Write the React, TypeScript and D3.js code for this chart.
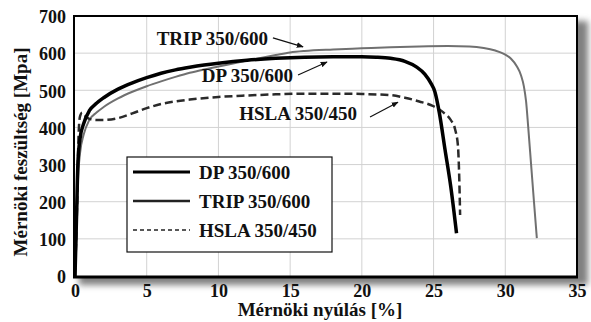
import * as d3 from 'd3';
import React, { useEffect, useRef } from 'react';

// strain [%] / stress [MPa]
const dpStrain = [0, 0.1, 0.2, 0.35, 0.6, 1, 1.5, 2, 3, 4, 5, 6, 7, 8, 9, 10, 12, 14, 16, 18, 20, 21, 22, 23, 23.8, 24.4, 24.8, 25.1, 25.4, 25.8, 26.2, 26.6];
const dpStress = [0, 150, 300, 370, 410, 445, 465, 480, 503, 520, 534, 546, 555, 562, 568, 573, 581, 586, 589, 590, 590, 589, 586, 578, 563, 543, 520, 495, 440, 340, 240, 115];

const tripStrain = [0, 0.1, 0.2, 0.35, 0.6, 1, 1.5, 2, 3, 4, 5, 6, 7, 8, 9, 10, 12, 14, 15, 16, 18, 20, 22, 24, 26, 27.5, 28.5, 29.3, 29.9, 30.4, 30.8, 31.1, 31.3, 31.45, 31.6, 31.8, 32, 32.2];
const tripStress = [0, 100, 250, 330, 380, 420, 440, 455, 478, 496, 511, 524, 536, 547, 556, 564, 580, 595, 602, 606, 610, 613, 616, 618, 619, 618, 614, 607, 598, 585, 565, 540, 510, 470, 400, 300, 200, 102];

const hslaStrain = [0, 0.15, 0.25, 0.35, 0.5, 0.7, 1, 1.5, 2, 3, 4, 5, 6, 7, 8, 10, 12, 14, 16, 18, 20, 22, 23, 24, 25, 25.7, 26.2, 26.5, 26.7, 26.8, 26.85];
const hslaStress = [0, 200, 380, 430, 440, 432, 423, 420, 420, 425, 438, 452, 463, 470, 475, 482, 486, 489, 491, 491, 490, 487, 480, 470, 457, 440, 420, 395, 350, 250, 164];

const xTicks = [0, 5, 10, 15, 20, 25, 30, 35];
const yTicks = [0, 100, 200, 300, 400, 500, 600, 700];

const seriesNames = ['DP 350/600', 'TRIP 350/600', 'HSLA 350/450'];

const W = 591;
const H = 322;
const FONT = "'Liberation Serif', 'Times New Roman', 'DejaVu Serif', serif";

type Pt = [number, number];

export default function App() {
  const svgRef = useRef<SVGSVGElement>(null);

  useEffect(() => {
    if (!svgRef.current) return;
    const svg = d3.select(svgRef.current);
    svg.selectAll('*').remove();

    const x = d3.scaleLinear().domain([0, 35]).range([75, 577]);
    const y = d3.scaleLinear().domain([0, 700]).range([276, 16]);

    const defs = svg.append('defs');
    defs.append('filter').attr('id', 'blur')
      .attr('x', '-10%').attr('y', '-10%').attr('width', '120%').attr('height', '120%')
      .append('feGaussianBlur').attr('stdDeviation', 3);
    defs.append('marker')
      .attr('id', 'arrow')
      .attr('viewBox', '0 0 10 10')
      .attr('refX', 9).attr('refY', 5)
      .attr('markerWidth', 7).attr('markerHeight', 7)
      .attr('markerUnits', 'userSpaceOnUse')
      .attr('orient', 'auto')
      .append('path').attr('d', 'M0,1 L10,5 L0,9 Z').attr('fill', '#111');

    // frame shadow
    svg.append('rect')
      .attr('x', x(0) + 4).attr('y', y(700) + 5)
      .attr('width', x(35) - x(0) + 7).attr('height', y(0) - y(700) + 4)
      .attr('fill', '#808080')
      .attr('filter', 'url(#blur)');

    svg.append('rect')
      .attr('x', x(0)).attr('y', y(700))
      .attr('width', x(35) - x(0)).attr('height', y(0) - y(700))
      .attr('fill', '#fff');

    // grid
    const g = svg.append('g');
    g.selectAll('.vgrid')
      .data(xTicks.slice(1, -1))
      .join('line')
      .attr('x1', d => x(d)).attr('x2', d => x(d))
      .attr('y1', y(0)).attr('y2', y(700))
      .attr('stroke', '#d2d2d2').attr('stroke-width', 1);
    g.selectAll('.hgrid')
      .data(yTicks.slice(1, -1))
      .join('line')
      .attr('x1', x(0)).attr('x2', x(35))
      .attr('y1', d => y(d)).attr('y2', d => y(d))
      .attr('stroke', '#d2d2d2').attr('stroke-width', 1);

    const line = d3.line<Pt>()
      .x(d => x(d[0]))
      .y(d => y(d[1]))
      .curve(d3.curveMonotoneX);

    const zip = (a: number[], b: number[]): Pt[] => a.map((v, i) => [v, b[i]]);

    g.append('path')
      .datum(zip(tripStrain, tripStress))
      .attr('d', line)
      .attr('fill', 'none')
      .attr('stroke', '#707070')
      .attr('stroke-width', 2);

    g.append('path')
      .datum(zip(hslaStrain, hslaStress))
      .attr('d', line)
      .attr('fill', 'none')
      .attr('stroke', '#2a2a2a')
      .attr('stroke-width', 2.5)
      .attr('stroke-dasharray', '8,4');

    g.append('path')
      .datum(zip(dpStrain, dpStress))
      .attr('d', line)
      .attr('fill', 'none')
      .attr('stroke', '#000')
      .attr('stroke-width', 3.5);

    // frame
    svg.append('rect')
      .attr('x', x(0) - 1).attr('y', y(700))
      .attr('width', x(35) - x(0) + 1).attr('height', y(0) - y(700) + 1)
      .attr('fill', 'none')
      .attr('stroke', '#000')
      .attr('stroke-width', 2);
    svg.append('line')
      .attr('x1', x(0) - 2).attr('x2', x(35) + 1)
      .attr('y1', y(0) + 1).attr('y2', y(0) + 1)
      .attr('stroke', '#000').attr('stroke-width', 3);

    const styleText = (sel: any, size: number) =>
      sel.attr('fill', '#111')
        .attr('font-family', FONT)
        .attr('font-weight', 'bold')
        .attr('font-size', size)
        .style('font-family', FONT);

    // axes
    const xAxis = svg.append('g')
      .attr('transform', `translate(0,${y(0)})`)
      .call(d3.axisBottom(x).tickValues(xTicks).tickSize(0).tickPadding(8).tickFormat(d3.format('d')))
      .attr('font-family', FONT);
    xAxis.select('.domain').remove();
    styleText(xAxis.selectAll('text'), 18);

    const yAxis = svg.append('g')
      .attr('transform', `translate(${x(0)},0)`)
      .call(d3.axisLeft(y).tickValues(yTicks).tickSize(0).tickPadding(9).tickFormat(d3.format('d')))
      .attr('font-family', FONT);
    yAxis.select('.domain').remove();
    styleText(yAxis.selectAll('text'), 18).attr('dy', '0.38em');

    styleText(svg.append('text')
      .attr('x', 320).attr('y', 316)
      .attr('text-anchor', 'middle')
      .text('Mérnöki nyúlás [%]'), 19);

    styleText(svg.append('text')
      .attr('transform', 'translate(27,152) rotate(-90)')
      .attr('text-anchor', 'middle')
      .text('Mérnöki feszültség [Mpa]'), 19);

    // annotations with arrows (data coordinates)
    const notes = [
      { name: seriesNames[1], tx: 13.46, ty: 622, from: [13.8, 641], to: [15.9, 617] },
      { name: seriesNames[0], tx: 15.2, ty: 522, from: [15.55, 541], to: [17.57, 576] },
      { name: seriesNames[2], tx: 19.66, ty: 420, from: [20.57, 428], to: [22.52, 468] },
    ];
    notes.forEach(n => {
      styleText(svg.append('text')
        .attr('x', x(n.tx)).attr('y', y(n.ty))
        .attr('text-anchor', 'end')
        .text(n.name), 19);
      svg.append('line')
        .attr('x1', x(n.from[0])).attr('y1', y(n.from[1]))
        .attr('x2', x(n.to[0])).attr('y2', y(n.to[1]))
        .attr('stroke', '#111').attr('stroke-width', 1.2)
        .attr('marker-end', 'url(#arrow)');
    });

    // legend
    const lg = svg.append('g').attr('transform', 'translate(127,157)');
    lg.append('rect')
      .attr('width', 205).attr('height', 95)
      .attr('fill', '#fff').attr('stroke', '#111').attr('stroke-width', 1.2);
    const legendStyles = [
      { w: 3, dash: null, c: '#000' },
      { w: 2.5, dash: null, c: '#222' },
      { w: 1.5, dash: '4,3', c: '#222' },
    ];
    seriesNames.forEach((name, i) => {
      const cy = 15 + i * 29;
      lg.append('line')
        .attr('x1', 6).attr('x2', 63)
        .attr('y1', cy).attr('y2', cy)
        .attr('stroke', legendStyles[i].c)
        .attr('stroke-width', legendStyles[i].w)
        .attr('stroke-dasharray', legendStyles[i].dash);
      styleText(lg.append('text')
        .attr('x', 72).attr('y', cy + 7)
        .text(name), 19);
    });
  }, []);

  return (
    <svg
      ref={svgRef}
      width={W}
      height={H}
      style={{ position: 'absolute', left: 0, top: 0, background: '#fff' }}
    />
  );
}
